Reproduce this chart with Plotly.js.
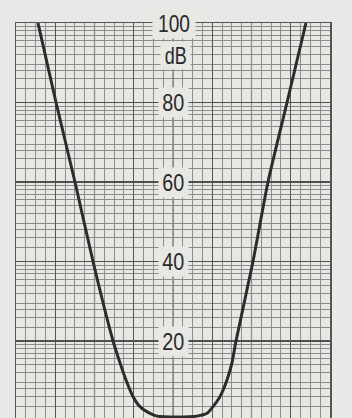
<!DOCTYPE html>
<html>
<head>
<meta charset="utf-8">
<script src="https://cdn.plot.ly/plotly-3.0.1.min.js"></script>
<style>
html,body{margin:0;padding:0;background:#e8e8e6;}
#chart{width:352px;height:418px;}
</style>
</head>
<body>
<div id="chart"></div>
<script>
// Horizontal position in chart-paper divisions (unlabelled axis)
const freqDiv = [2.24, 4.08, 6.01, 7.85, 9.89, 10.60, 11.21, 11.93, 12.64, 13.66, 14.37, 16.41,
                 18.45, 19.47, 20.08, 20.79, 21.50, 22.01, 22.42, 24.15, 25.68, 27.62, 29.55];
// Attenuation in dB
const attenDb = [100, 80, 60, 40, 20, 14.5, 10.2, 6.0, 3.5, 1.8, 1.1, 0.9,
                 1.1, 1.8, 3.5, 6.0, 10.2, 14.5, 20, 40, 60, 80, 100];

const yTickVals = [0, 20, 40, 60, 80, 100];
const yTickLabels = ['', '20', '40', '60', '80', '100'];
const unitLabel = 'dB';

// chart-paper grid (log amplitude subdivisions within each 20 dB decade)
const subFactors = [1.5, 2, 2.5, 3, 4, 5, 6, 7, 8, 9];
const yMinor = [];
for (let d = 0; d < 100; d += 20) {
  subFactors.forEach(k => yMinor.push(d + 20 * Math.log10(k)));
}
const xMajor = [4, 12, 20, 28];
const xMedium = [8, 16, 24];

const shapes = xMedium.map(v => ({
  type: 'line', xref: 'x', yref: 'paper', x0: v, x1: v, y0: 0, y1: 1,
  line: {color: '#6e6e6e', width: 1.2}, layer: 'between'
}));

const labelFont = {family: '"Liberation Sans", Arial, sans-serif', size: 24, color: '#2a2a2a'};
const annotations = yTickVals.map((v, i) => yTickLabels[i] ? ({
  x: 16.1, y: v, xref: 'x', yref: 'y', text: yTickLabels[i], showarrow: false,
  font: labelFont, bgcolor: '#e7e7e4', borderpad: 1, xanchor: 'center', yanchor: 'middle'
}) : null).filter(a => a);
annotations.push({
  x: 16.3, y: 91.7, xref: 'x', yref: 'y', text: unitLabel, showarrow: false,
  font: labelFont, bgcolor: '#e7e7e4', borderpad: 0, xanchor: 'center', yanchor: 'middle'
});

const trace = {
  x: freqDiv, y: attenDb, type: 'scatter', mode: 'lines',
  line: {color: '#2c2c2c', width: 3, shape: 'spline', smoothing: 0.6},
  hoverinfo: 'skip'
};

const layout = {
  width: 352, height: 418,
  margin: {l: 16, r: 22, t: 23, b: 0, pad: 0},
  paper_bgcolor: '#e8e8e6', plot_bgcolor: '#e7e7e4',
  showlegend: false,
  xaxis: {
    range: [0, 32], showticklabels: false, ticks: '', zeroline: false,
    tickmode: 'array', tickvals: xMajor, showgrid: true, gridcolor: '#555', gridwidth: 1.4,
    minor: {dtick: 1, tick0: 0, showgrid: true, gridcolor: '#8e8e8e', gridwidth: 1},
    showline: true, mirror: true, linecolor: '#555', linewidth: 1.5
  },
  yaxis: {
    range: [0.63, 100], showticklabels: false, ticks: '', zeroline: false,
    tickmode: 'array', tickvals: yTickVals, showgrid: true, gridcolor: '#505050', gridwidth: 1.6,
    minor: {tickmode: 'array', tickvals: yMinor, showgrid: true, gridcolor: '#8a8a8a', gridwidth: 1},
    showline: true, mirror: true, linecolor: '#555', linewidth: 1.5
  },
  shapes: shapes,
  annotations: annotations
};

Plotly.newPlot('chart', [trace], layout, {staticPlot: true, displayModeBar: false}).then(() => {
  // condense the label glyphs like the narrow typeface of the original paper
  document.querySelectorAll('.annotation-text').forEach(t => {
    const s = t.textContent;
    const w = s.length >= 3 ? 32 : 22;
    t.setAttribute('textLength', w);
    t.setAttribute('lengthAdjust', 'spacingAndGlyphs');
  });
});
</script>
</body>
</html>
